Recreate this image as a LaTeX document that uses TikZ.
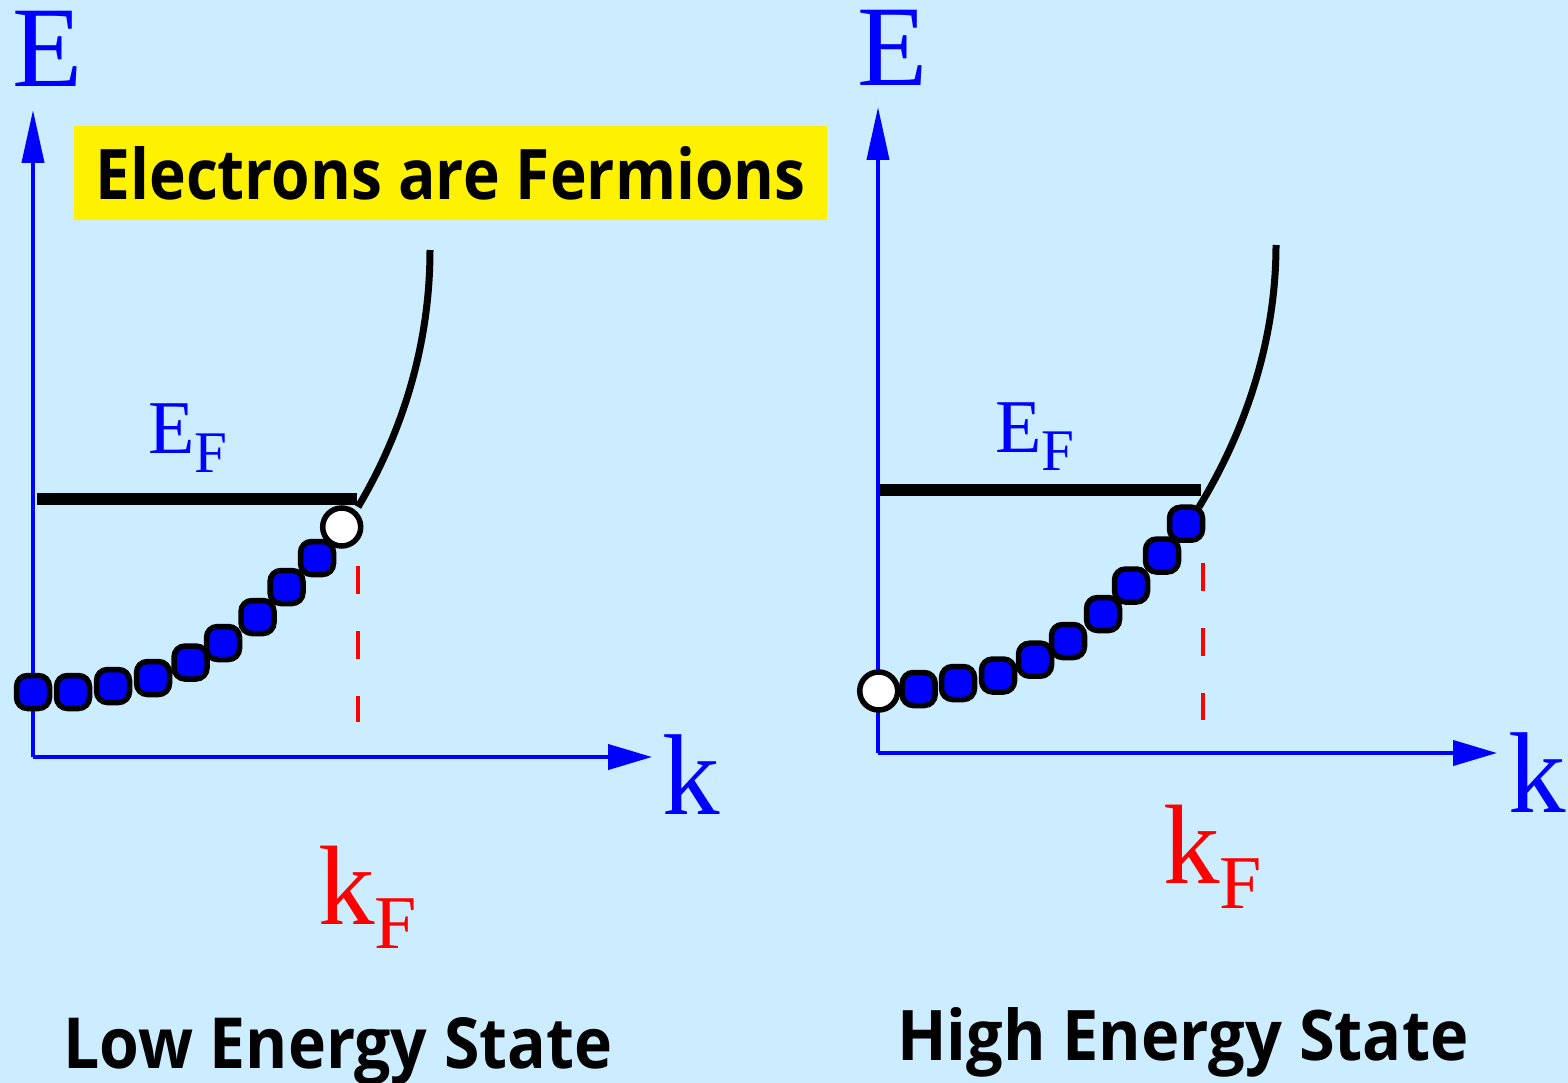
\documentclass[tikz,border=0pt]{standalone}
\usepackage{fontspec}
\usepackage{graphicx}
\setmainfont{Liberation Serif}
\newfontfamily\comicf{Open Sans}
\usetikzlibrary{arrows.meta}
\definecolor{bgc}{RGB}{204,236,255}
\begin{document}
\begin{tikzpicture}[x=1pt,y=-1pt,
  eaxis/.style={draw=blue, line width=4pt, -{Triangle[length=53pt,width=22pt]}},
  kaxis/.style={draw=blue, line width=4pt, -{Triangle[length=44pt,width=25pt]}},
  band/.style={draw=black, line width=7pt, line cap=butt},
  fermi/.style={draw=black, line width=12pt},
  kfline/.style={draw=red, line width=4pt, dash pattern=on 28pt off 37pt},
  dotb/.style={rectangle, rounded corners=11pt, minimum size=33pt, inner sep=0pt, draw=black, line width=5.5pt, fill=blue},
  dotw/.style={circle, minimum size=38pt, inner sep=0pt, draw=black, line width=5.5pt, fill=white},
  biglbl/.style={text=blue, font=\fontsize{115}{115}\selectfont, inner sep=0pt, anchor=base west},
  sublbl/.style={inner sep=0pt, anchor=base west},
  plain/.style={inner sep=0pt, anchor=base west}
]
\path[fill=bgc] (0,0) rectangle (1568,1083);
\useasboundingbox (0,0) rectangle (1568,1083);

% title box
\node[fill=yellow, minimum width=753pt, minimum height=94pt, inner sep=0pt] (title) at (450.5,173)
  {\resizebox{710pt}{53pt}{\comicf\bfseries Electrons are Fermions}};

% ---------- left panel ----------
\coordinate (lO) at (33,757);
\coordinate (lEtip) at (33,110);
\coordinate (lktip) at (652,757);
\draw[eaxis] (lO) -- (lEtip);
\draw[kaxis] (lO) -- (lktip);
\node[biglbl] (lE) at (12,87) {E};
\node[biglbl] (lk) at (662,814) {k};

\coordinate (lcb) at (358,507);
\coordinate (lct) at (430,250);
\draw[band] (lcb) .. controls (405,428) and (430,340) .. (lct);

\coordinate (lfa) at (37,499);
\coordinate (lfb) at (357,499);
\draw[fermi] (lfa) -- (lfb);
\node[sublbl, text=blue] (lEF) at (148,453)
  {\fontsize{76}{76}\selectfont E\raisebox{-19pt}{\fontsize{59}{59}\selectfont F}};

\coordinate (lda) at (358,566);
\coordinate (ldb) at (358,722);
\draw[kfline] (lda) -- (ldb);
\node[sublbl, text=red] (lkF) at (318,924)
  {\fontsize{113}{113}\selectfont k\raisebox{-24pt}{\fontsize{76}{76}\selectfont F}};

\node[dotb] (l1) at (33,692) {};
\node[dotb] (l2) at (73,692) {};
\node[dotb] (l3) at (113,686) {};
\node[dotb] (l4) at (153,678) {};
\node[dotb] (l5) at (190.5,662.5) {};
\node[dotb] (l6) at (223,643) {};
\node[dotb] (l7) at (257.5,617) {};
\node[dotb] (l8) at (286.5,587) {};
\node[dotb] (l9) at (317,558) {};
\node[dotw] (l10) at (341.7,527) {};

\node[plain] (low) at (63,1068)
  {\resizebox{549pt}{51pt}{\comicf\bfseries Low Energy State}};

% ---------- right panel ----------
\coordinate (rO) at (878,753);
\coordinate (rEtip) at (878,107);
\coordinate (rktip) at (1497,753);
\draw[eaxis] (rO) -- (rEtip);
\draw[kaxis] (rO) -- (rktip);
\node[biglbl] (rE) at (857,86) {E};
\node[biglbl] (rk) at (1508,812) {k};

\coordinate (rcb) at (1199,507);
\coordinate (rct) at (1276,245);
\draw[band] (rcb) .. controls (1247,428) and (1276,338) .. (rct);

\coordinate (rfa) at (880,490);
\coordinate (rfb) at (1201,490);
\draw[fermi] (rfa) -- (rfb);
\node[sublbl, text=blue] (rEF) at (995,452)
  {\fontsize{76}{76}\selectfont E\raisebox{-18pt}{\fontsize{59}{59}\selectfont F}};

\coordinate (rda) at (1203,563);
\coordinate (rdb) at (1203,720);
\draw[kfline] (rda) -- (rdb);
\node[sublbl, text=red] (rkF) at (1163,883)
  {\fontsize{113}{113}\selectfont k\raisebox{-25pt}{\fontsize{76}{76}\selectfont F}};

\node[dotw] (r1) at (878.7,691) {};
\node[dotb] (r2) at (918.7,689) {};
\node[dotb] (r3) at (958,683) {};
\node[dotb] (r4) at (998,675.5) {};
\node[dotb] (r5) at (1035,659.7) {};
\node[dotb] (r6) at (1068,641) {};
\node[dotb] (r7) at (1103,614) {};
\node[dotb] (r8) at (1131,585.5) {};
\node[dotb] (r9) at (1162,555.5) {};
\node[dotb] (r10) at (1186,523.7) {};

\node[plain] (high) at (897,1060)
  {\resizebox{571pt}{53pt}{\comicf\bfseries High Energy State}};
\end{tikzpicture}
\end{document}
